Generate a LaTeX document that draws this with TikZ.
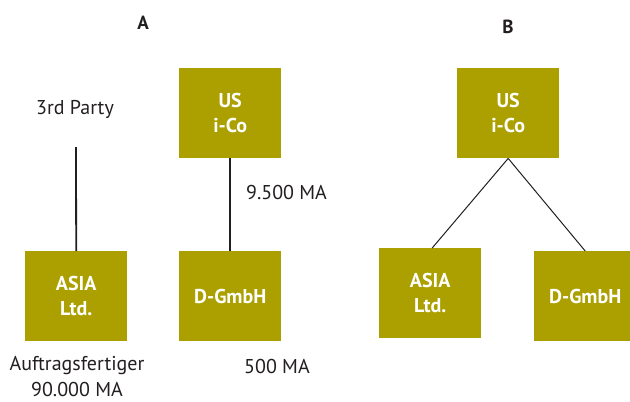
\documentclass[tikz,border=0pt]{standalone}
\usepackage{fontspec}
\setmainfont{PT Sans}
\definecolor{olive}{RGB}{172,160,0}
\definecolor{ink}{RGB}{35,31,32}
\begin{document}
\begin{tikzpicture}[x=1pt,y=-1pt,
  box/.style={fill=olive,draw=none,minimum width=102pt,minimum height=90pt,inner sep=0pt,
    text=white,font=\fontsize{20}{25}\selectfont\bfseries,align=center,anchor=north west},
  lbl/.style={font=\fontsize{20}{26}\selectfont,text=ink,align=center,inner sep=0pt},
  hdr/.style={font=\fontsize{19}{22}\selectfont\bfseries,text=ink,inner sep=0pt},
  conn/.style={draw=ink,line width=1.8pt},
  thin/.style={draw=ink,line width=1pt}]
\useasboundingbox (0,0) rectangle (630,402);
% Panel A
\node[hdr] (hA) at (143,23) {A};
\node[box] (usA) at (179,68) {US\\i-Co};
\node[box] (asiaA) at (25,251) {ASIA\\Ltd.};
\node[box] (dA) at (179,251) {D-GmbH};
\node[lbl] (third) at (75,109) {3rd Party};
\coordinate (thirdEnd) at (76,147);
\draw[conn] (thirdEnd) -- (asiaA.north);
\draw[conn] (usA.south) -- (dA.north);
\node[lbl,anchor=west] (ma95) at (246,192) {9.500 MA};
\node[lbl] (auf) at (77,377) {Auftragsfertiger\\90.000 MA};
\node[lbl,anchor=west] (ma5) at (244,366) {500 MA};
% Panel B
\node[hdr] (hB) at (508,27) {B};
\node[box] (usB) at (457,68) {US\\i-Co};
\node[box] (asiaB) at (379,248) {ASIA\\Ltd.};
\node[box] (dB) at (534,251) {D-GmbH};
\draw[thin] (usB.south) -- ([xshift=2pt]asiaB.north);
\draw[thin] (usB.south) -- (dB.north);
\end{tikzpicture}
\end{document}
